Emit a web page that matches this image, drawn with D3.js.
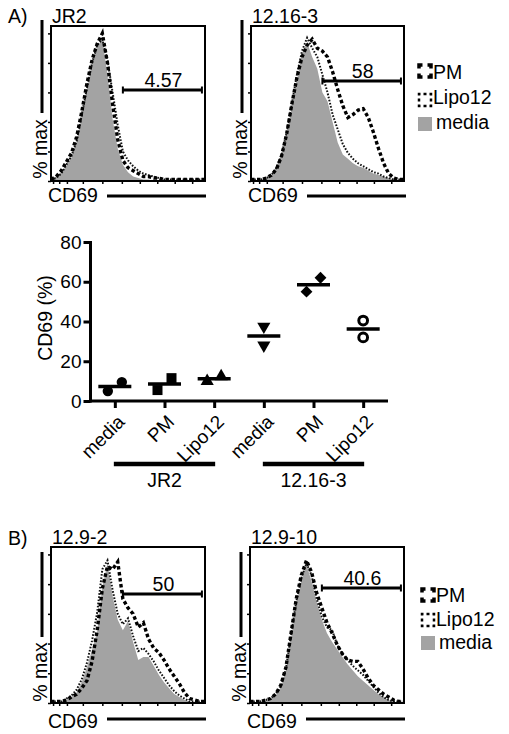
<!DOCTYPE html>
<html>
<head>
<meta charset="utf-8">
<script src="https://cdn.jsdelivr.net/npm/d3@7"></script>
<style>
  body { margin: 0; background: #fff; }
  svg { display: block; font-family: "Liberation Sans", Arial, sans-serif; }
</style>
</head>
<body>
<svg id="chart" width="509" height="734"></svg>
<script>
// ---------------- DATA ----------------
// CD69 channel bins for the flow histograms (% of max per bin)
const histBins = d3.range(31);
const histYTicks = [0, 20, 40, 60, 80, 100];
const histXTicks = [0.4, 1.6, 3.1, 6.2, 10, 13.8, 17.3, 20.7, 24.1, 27.5];
const gateRange = [14, 29.4];

const jr2Media = [1,3,6,10,16,26,44,62,78,90,97,72,42,22,11,6,3,2,1,1,0,0,0,0,0,0,0,0,0,0,0];
const jr2PM    = [1,3,7,13,19,30,47,66,82,93,100,80,52,28,14,9,7,5,3,3,2,2,1,1,1,1,1,1,1,1,1];
const jr2Lipo  = [1,2,5,11,17,27,45,63,80,92,96,82,60,38,20,14,10,7,5,4,3,2,1,1,1,1,1,1,1,1,1];

const c1216Media = [0,0,1,2,4,10,18,32,50,68,86,94,84,76,60,54,40,26,18,15,12,10,9,7,5,4,3,2,1,0,0];
const c1216PM    = [1,1,1,2,4,8,17,32,52,70,84,92,96,90,88,84,74,62,51,43,45,48,49,43,33,22,12,5,2,1,1];
const c1216Lipo  = [1,1,1,2,4,9,18,33,52,72,88,97,90,84,72,60,45,35,25,19,15,12,10,8,6,5,3,2,1,1,1];

const c129_2Media = [0,0,1,2,4,7,14,24,36,48,78,94,72,56,49,55,41,29,31,31,25,19,14,10,6,4,2,1,0,0,0];
const c129_2PM    = [1,1,1,2,4,6,10,15,28,49,77,92,90,95,70,64,60,51,54,43,37,34,29,23,18,13,7,3,2,1,1];
const c129_2Lipo  = [1,1,1,3,5,9,16,27,42,61,90,96,76,60,53,57,45,35,37,33,28,22,17,12,8,5,3,1,1,1,1];

const c129_10Media = [0,0,1,1,3,5,10,22,44,65,82,93,82,68,56,47,41,36,31,26,22,18,15,12,9,6,4,2,1,0,0];
const c129_10PM    = [1,1,1,2,3,6,12,24,47,70,86,96,88,74,64,54,47,39,33,29,28,28,23,17,12,9,6,4,2,1,1];
const c129_10Lipo  = [1,1,1,2,3,6,11,23,46,68,84,94,86,70,58,51,49,39,33,29,25,22,19,15,11,7,4,2,1,1,1];

const histTitles = ["JR2", "12.16-3", "12.9-2", "12.9-10"];
const gateLabels = ["4.57", "58", "50", "40.6"];
const legendLabels = ["PM", "Lipo12", "media"];

// Scatter (CD69 %) data
const treatments = ["media", "PM", "Lipo12", "media", "PM", "Lipo12"];
const cellLines  = ["JR2", "JR2", "JR2", "12.16-3", "12.16-3", "12.16-3"];
const groupNames = ["JR2", "12.16-3"];
const rep1 = [5, 5.5, 10, 37.5, 55, 40.5];
const rep2 = [9.5, 11.5, 12.4, 28, 62, 32];
const scatterYTicks = [0, 20, 40, 60, 80];

// ---------------- DRAW ----------------
const svg = d3.select("#chart");
const FONT = 19.5;
const GRAY = "#a3a3a3";

function drawHist(idx, media, pm, lipo, L, T, W, H, opt) {
  const x = d3.scaleLinear().domain([0, histBins.length - 1]).range([L, L + W]);
  const y = d3.scaleLinear().domain([0, 105]).range([T + H, T]);
  const g = svg.append("g");
  const clipId = "clip" + idx;
  g.append("clipPath").attr("id", clipId).append("rect")
    .attr("x", L).attr("y", T).attr("width", W).attr("height", H);
  const pg = g.append("g").attr("clip-path", `url(#${clipId})`);

  pg.append("path").datum(media)
    .attr("d", d3.area().x((d, i) => x(histBins[i])).y0(y(0)).y1(d => y(d)))
    .attr("fill", GRAY);
  const line = d3.line().x((d, i) => x(histBins[i])).y(d => y(d));
  pg.append("path").datum(lipo).attr("d", line)
    .attr("fill", "none").attr("stroke", "#111").attr("stroke-width", 2)
    .attr("stroke-dasharray", "1.6 1.6");
  pg.append("path").datum(pm).attr("d", line)
    .attr("fill", "none").attr("stroke", "#000").attr("stroke-width", 3.4)
    .attr("stroke-dasharray", "3.5 2.5");

  g.append("rect").attr("x", L).attr("y", T).attr("width", W).attr("height", H)
    .attr("fill", "none").attr("stroke", "#000").attr("stroke-width", 2);

  g.append("g").attr("transform", `translate(${L},0)`)
    .call(d3.axisLeft(y).tickValues(histYTicks).tickSize(3).tickFormat(""))
    .call(a => a.select(".domain").remove())
    .call(a => a.selectAll("line").attr("stroke-width", 1.5));
  g.append("g").attr("transform", `translate(0,${T + H})`)
    .call(d3.axisBottom(x).tickValues(histXTicks).tickSize(3).tickFormat(""))
    .call(a => a.select(".domain").remove())
    .call(a => a.selectAll("line").attr("stroke-width", 1.5));

  // gate
  const gy = opt.gateY;
  g.append("line").attr("x1", x(gateRange[0])).attr("x2", x(gateRange[1]))
    .attr("y1", gy).attr("y2", gy).attr("stroke", "#000").attr("stroke-width", 3);
  gateRange.forEach(v => g.append("line").attr("x1", x(v)).attr("x2", x(v))
    .attr("y1", gy - 3.5).attr("y2", gy + 3.5).attr("stroke", "#000").attr("stroke-width", 2));
  g.append("text").attr("x", (x(gateRange[0]) + x(gateRange[1])) / 2 + 1).attr("y", gy - 3)
    .attr("text-anchor", "middle").attr("font-size", FONT).text(gateLabels[idx]);

  // title
  g.append("text").attr("x", L + 1).attr("y", T - 3).attr("font-size", FONT).text(histTitles[idx]);

  // % max label and bar
  g.append("line").attr("x1", L - 9).attr("x2", L - 9).attr("y1", opt.maxBar[0]).attr("y2", opt.maxBar[1])
    .attr("stroke", "#000").attr("stroke-width", 3);
  g.append("text").attr("transform", `translate(${L - 4},${opt.maxTextY}) rotate(-90)`)
    .attr("text-anchor", "middle").attr("font-size", FONT).text("% max");

  // CD69 label and bar
  g.append("text").attr("x", L - 3).attr("y", T + H + opt.cdText).attr("font-size", FONT).text("CD69");
  g.append("line").attr("x1", L + 56).attr("x2", L + 155)
    .attr("y1", T + H + opt.cdLine).attr("y2", T + H + opt.cdLine)
    .attr("stroke", "#000").attr("stroke-width", 3);
}

function drawLegend(L, ys, swTop) {
  const g = svg.append("g");
  const s = 12;
  // PM
  g.append("rect").attr("x", L).attr("y", swTop[0]).attr("width", s).attr("height", s)
    .attr("fill", "none").attr("stroke", "#000").attr("stroke-width", 3.5)
    .attr("stroke-dasharray", "7 5").attr("stroke-dashoffset", 3.5);
  // Lipo12
  g.append("rect").attr("x", L).attr("y", swTop[1]).attr("width", s).attr("height", s)
    .attr("fill", "none").attr("stroke", "#000").attr("stroke-width", 2.5)
    .attr("stroke-dasharray", "3 3").attr("stroke-dashoffset", 1.5);
  // media
  g.append("rect").attr("x", L - 1).attr("y", swTop[2] - 1).attr("width", s + 2).attr("height", s + 2)
    .attr("fill", GRAY);
  legendLabels.forEach((t, i) => g.append("text").attr("x", L + 14 + (i === 2 ? 3 : 0)).attr("y", ys[i])
    .attr("font-size", FONT).text(t));
}

// Row A
svg.append("text").attr("x", 8).attr("y", 23).attr("font-size", FONT).text("A)");
drawHist(0, jr2Media, jr2PM, jr2Lipo, 51, 26, 154, 155,
  { gateY: 90, maxBar: [20, 113], maxTextY: 149, cdText: 21, cdLine: 15 });
drawHist(1, c1216Media, c1216PM, c1216Lipo, 251, 26, 153, 155,
  { gateY: 81, maxBar: [20, 113], maxTextY: 149, cdText: 21, cdLine: 15 });
drawLegend(419, [79, 104, 129], [65, 94, 118]);

// Row B
svg.append("text").attr("x", 8).attr("y", 545).attr("font-size", FONT).text("B)");
drawHist(2, c129_2Media, c129_2PM, c129_2Lipo, 51, 547, 154, 156,
  { gateY: 594, maxBar: [552, 637], maxTextY: 672, cdText: 25, cdLine: 16 });
drawHist(3, c129_10Media, c129_10PM, c129_10Lipo, 250, 547, 154, 156,
  { gateY: 588, maxBar: [552, 637], maxTextY: 672, cdText: 25, cdLine: 16 });
drawLegend(422, [602, 626, 649], [589, 614, 637]);

// ---------------- Scatter ----------------
const sx = d3.scalePoint().domain(d3.range(treatments.length)).range([90, 388]).padding(0.5);
const sy = d3.scaleLinear().domain([0, 80]).range([401, 242]);
const sg = svg.append("g");

sg.append("g").attr("transform", "translate(90.5,0)")
  .call(d3.axisLeft(sy).tickValues(scatterYTicks).tickSize(7).tickPadding(2))
  .call(a => a.select(".domain").remove())
  .call(a => a.selectAll("line").attr("stroke-width", 3))
  .call(a => a.selectAll("text").attr("font-size", 19).attr("font-family", "Liberation Sans, Arial, sans-serif").attr("fill", "#000"));
sg.append("line").attr("x1", 90.5).attr("x2", 90.5).attr("y1", sy(80) - 1).attr("y2", sy(0) + 1.5)
  .attr("stroke", "#000").attr("stroke-width", 3);
sg.append("g").attr("transform", `translate(0,${sy(0)})`)
  .call(d3.axisBottom(sx).tickSize(7).tickFormat(""))
  .call(a => a.select(".domain").remove())
  .call(a => a.selectAll("line").attr("stroke-width", 3));
sg.append("line").attr("x1", 89).attr("x2", 388).attr("y1", sy(0)).attr("y2", sy(0))
  .attr("stroke", "#000").attr("stroke-width", 3);

// rotated category labels
treatments.forEach((t, i) => {
  sg.append("text").attr("transform", `translate(${sx(i) + 11},${423}) rotate(-45)`)
    .attr("text-anchor", "end").attr("font-size", 19).text(t);
});
// group bars
groupNames.forEach(gname => {
  const idx = cellLines.map((c, i) => c === gname ? i : -1).filter(i => i >= 0);
  const x0 = sx(idx[0]) - 1, x1 = sx(idx[idx.length - 1]) + 1;
  sg.append("line").attr("x1", x0).attr("x2", x1).attr("y1", 464).attr("y2", 464)
    .attr("stroke", "#000").attr("stroke-width", 4.5);
  sg.append("text").attr("x", (x0 + x1) / 2).attr("y", 487).attr("text-anchor", "middle")
    .attr("font-size", FONT).text(gname);
});
// y label
sg.append("text").attr("transform", "translate(52,318) rotate(-90)").attr("text-anchor", "middle")
  .attr("font-size", FONT).text("CD69 (%)");

// markers
const shapes = [
  { t: d3.symbolCircle, size: 85, rot: 0, open: false },
  { t: d3.symbolSquare, size: 100, rot: 0, open: false },
  { t: d3.symbolTriangle, size: 75, rot: 0, open: false },
  { t: d3.symbolTriangle, size: 75, rot: 180, open: false },
  { t: d3.symbolSquare, size: 70, rot: 45, open: false },
  { t: d3.symbolCircle, size: 60, rot: 0, open: true }
];
treatments.forEach((t, i) => {
  const vals = [rep1[i], rep2[i]];
  const close = Math.abs(sy(vals[0]) - sy(vals[1])) < 16;
  const lo = d3.min(vals);
  vals.forEach(v => {
    let dx = 0;
    if (close) dx = (v === lo ? -7 : 7);
    const sh = shapes[i];
    sg.append("path").attr("d", d3.symbol().type(sh.t).size(sh.size)())
      .attr("transform", `translate(${sx(i) + dx},${sy(v)}) rotate(${sh.rot})`)
      .attr("fill", sh.open ? "none" : "#000")
      .attr("stroke", "#000").attr("stroke-width", sh.open ? 3 : 0);
  });
  const m = d3.mean(vals);
  sg.append("line").attr("x1", sx(i) - 16.5).attr("x2", sx(i) + 16.5)
    .attr("y1", sy(m)).attr("y2", sy(m)).attr("stroke", "#000").attr("stroke-width", 3.5);
});
</script>
</body>
</html>
